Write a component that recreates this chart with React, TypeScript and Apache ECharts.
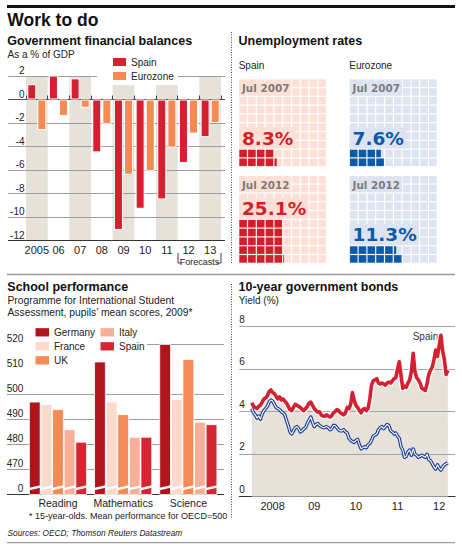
import React, { useEffect, useRef } from 'react';
import * as echarts from 'echarts';

// Government financial balances, % of GDP
const balanceYears = ['2005', '06', '07', '08', '09', '10', '11', '12', '13'];
const spainBalance = [1.3, 2.3, 1.8, -4.5, -11.1, -9.3, -8.5, -5.4, -3.2];
const eurozoneBalance = [-2.6, -1.4, -0.7, -2.1, -6.4, -6.1, -4.1, -2.9, -2.0];
const balanceGridValues = [2, -2, -4, -6, -8, -10];

// Unemployment rates, %
const unempPeriods = ['Jul 2007', 'Jul 2012'];
const unempSpain = [8.3, 25.1];
const unempEurozone = [7.6, 11.3];
const spainBlockRows = [2, 5];
const eurozoneBlockRows = [2, 2];

// PISA 2009 mean scores
const pisaSubjects = ['Reading', 'Mathematics', 'Science'];
const pisaGermany = [497, 513, 520];
const pisaFrance = [496, 497, 498];
const pisaUK = [494, 492, 514];
const pisaItaly = [486, 483, 489];
const pisaSpain = [481, 483, 488];
const pisaGridValues = [470, 480, 490, 500];
const pisaTopGrid = 520;
const pisaBase = 460;

// 10-year government bond yields, %, twice a month from January 2008
const bondYears = [2008, 2009, 2010, 2011, 2012];
const bondYearLabels = ['2008', '09', '10', '11', '12'];
const bondGridValues = [2, 4, 6, 8];
const spainYield = [
  4.42, 4.25, 4.2, 4.15, 4.25, 4.3, 4.45, 4.6, 4.65, 4.75, 4.95, 5.02,
  4.9, 4.85, 4.72, 4.6, 4.7, 4.55, 4.6, 4.5, 4.4, 4.25, 4.1, 4.05,
  4.2, 4.35, 4.3, 4.25, 4.2, 4.1, 4.05, 4.15, 4.25, 4.4, 4.45, 4.3,
  4.15, 4.05, 3.98, 4.0, 3.85, 3.8, 3.78, 3.85, 3.8, 3.75, 3.8, 3.95,
  4.0, 4.1, 4.05, 3.95, 3.9, 3.85, 3.95, 4.2, 4.15, 4.35, 4.9, 4.55,
  4.3, 4.2, 4.05, 3.95, 4.1, 4.15, 4.05, 4.15, 4.6, 5.25, 5.45, 5.5,
  5.55, 5.35, 5.3, 5.35, 5.3, 5.25, 5.35, 5.4, 5.35, 5.45, 5.55, 5.6,
  6.0, 6.35, 5.7, 5.1, 5.2, 5.15, 5.35, 5.5, 5.9, 6.75, 5.9, 5.6,
  5.5, 5.35, 5.1, 5.05, 5.0, 5.3, 5.75, 5.95, 6.1, 6.45, 6.9, 6.6,
  7.1, 7.6, 6.85, 6.45, 5.75, 5.95,
];
const germanyYield = [
  4.15, 3.95, 3.85, 3.7, 3.8, 3.65, 3.9, 4.05, 4.15, 4.25, 4.45, 4.55,
  4.5, 4.35, 4.2, 4.15, 4.1, 4.0, 3.95, 3.85, 3.6, 3.35, 3.05, 2.95,
  3.1, 3.25, 3.3, 3.2, 3.05, 3.1, 3.2, 3.25, 3.45, 3.6, 3.75, 3.5,
  3.3, 3.4, 3.45, 3.35, 3.3, 3.25, 3.25, 3.3, 3.25, 3.15, 3.2, 3.35,
  3.35, 3.25, 3.15, 3.1, 3.1, 3.15, 3.05, 3.0, 2.75, 2.65, 2.6, 2.55,
  2.65, 2.7, 2.45, 2.25, 2.3, 2.35, 2.3, 2.45, 2.5, 2.65, 2.85, 2.9,
  2.95, 3.15, 3.25, 3.3, 3.2, 3.3, 3.4, 3.35, 3.1, 3.05, 2.95, 3.0,
  2.85, 2.75, 2.35, 2.2, 1.85, 1.9, 2.1, 2.2, 1.95, 2.25, 2.0, 1.95,
  1.85, 1.9, 1.95, 1.9, 1.85, 2.0, 1.75, 1.7, 1.55, 1.4, 1.3, 1.5,
  1.35, 1.25, 1.4, 1.5, 1.55, 1.6,
];
const bondStart = 2008;
const bondStepsPerYear = 24;

const FONT = '"Liberation Sans", Arial, Helvetica, sans-serif';
const WIDE = '"DejaVu Sans", Verdana, sans-serif';
const RED = '#d42030';
const ORANGE = '#f58a52';
const BAND = '#e6e2d9';
const INK = '#222';

const hline = (v: number, x0: number, x1: number, color: string, width = 1) => [
  { x: x0, yAxis: v, lineStyle: { color, width, type: 'solid' } },
  { x: x1, yAxis: v },
];

const label = (text: string, x: number, y: number, font: string, fill = INK, align = 'left') => ({
  type: 'text',
  x,
  y,
  silent: true,
  style: { text, font, fill, align, verticalAlign: 'middle', textAlign: align, textVerticalAlign: 'middle' },
});

// Fill a 10x10 waffle from the bottom row upwards, `rows` rows deep
function waffleCells(value: number, rows: number) {
  const base = Math.floor(value / rows);
  const rem = value - base * rows;
  const out: number[][] = [];
  for (let r = 0; r < 10; r++) {
    const rowAmt = r < rows ? base + Math.min(1, Math.max(0, rem - r)) : 0;
    for (let c = 0; c < 10; c++) out.push([c, r, Math.min(1, Math.max(0, rowAmt - c))]);
  }
  return out;
}

// bond panel horizontal scale
const BOND_LEFT = 239.3;
const BOND_WIDTH = 215.7;
const BOND_MIN = 2007.7;
const BOND_MAX = 2012.88;
const BOND_TOP = 326.7;
const BOND_BOTTOM = 496.7;

function buildOption() {
  const waffleLeft = [238.7, 349.3];
  const waffleTop = [78.7, 175.3];
  const panels = [
    { col: 0, row: 0, value: unempSpain[0], rows: spainBlockRows[0], period: unempPeriods[0], pale: '#fde0d5', dark: '#d21f2c' },
    { col: 1, row: 0, value: unempEurozone[0], rows: eurozoneBlockRows[0], period: unempPeriods[0], pale: '#dde3f0', dark: '#0b5aa7' },
    { col: 0, row: 1, value: unempSpain[1], rows: spainBlockRows[1], period: unempPeriods[1], pale: '#fde0d5', dark: '#d21f2c' },
    { col: 1, row: 1, value: unempEurozone[1], rows: eurozoneBlockRows[1], period: unempPeriods[1], pale: '#dde3f0', dark: '#0b5aa7' },
  ];

  const pxPerYear = BOND_WIDTH / (BOND_MAX - BOND_MIN);
  const grids: any[] = [
    { left: 26, top: 76, width: 195, height: 164.5 },
    { left: 25.4, top: 344, width: 195.5, height: 150.5 },
    { left: BOND_LEFT, top: BOND_TOP, width: BOND_WIDTH, height: BOND_BOTTOM - BOND_TOP },
    ...panels.map((p) => ({ left: waffleLeft[p.col], top: waffleTop[p.row], width: 88, height: 88 })),
    // one band per calendar year for the bond panel's year labels
    {
      left: BOND_LEFT + (bondYears[0] - BOND_MIN) * pxPerYear,
      top: BOND_TOP,
      width: bondYears.length * pxPerYear,
      height: BOND_BOTTOM - BOND_TOP,
    },
  ].map((g) => ({ ...g, containLabel: false, outerBoundsMode: 'none' }));

  const yearGridIndex = 3 + panels.length;

  const xAxes: any[] = [
    {
      gridIndex: 0,
      type: 'category',
      data: balanceYears,
      axisLine: { show: false },
      axisTick: { show: true, inside: true, length: 4, interval: 0, lineStyle: { color: '#444' } },
      axisLabel: { interval: 0, hideOverlap: false, fontSize: 11, color: INK, margin: 4, fontFamily: FONT },
      splitLine: { show: false },
      splitArea: { show: true, interval: 0, areaStyle: { color: [BAND, 'rgba(255,255,255,0)'] } },
    },
    {
      gridIndex: 1,
      type: 'category',
      data: pisaSubjects,
      axisLine: { show: false },
      axisTick: { show: false },
      axisLabel: { interval: 0, hideOverlap: false, fontSize: 10.5, color: INK, margin: 3, fontFamily: FONT },
      splitLine: { show: false },
    },
    {
      gridIndex: 2,
      type: 'value',
      min: BOND_MIN,
      max: BOND_MAX,
      axisLine: { show: true, lineStyle: { color: '#333', width: 1.2 } },
      axisTick: { show: true, inside: true, length: 8, customValues: bondYears, lineStyle: { color: '#555' } },
      axisLabel: { show: false },
      splitLine: { show: false },
    },
    ...panels.map((_, i) => ({ gridIndex: 3 + i, type: 'value', min: 0, max: 10, show: false })),
    {
      gridIndex: yearGridIndex,
      type: 'category',
      data: bondYearLabels,
      axisLine: { show: false },
      axisTick: { show: false },
      splitLine: { show: false },
      axisLabel: { interval: 0, hideOverlap: false, fontSize: 11, color: INK, margin: 4, fontFamily: FONT },
    },
  ];

  const yAxes: any[] = [
    {
      gridIndex: 0,
      type: 'value',
      min: -12,
      max: 2,
      interval: 2,
      axisLine: { show: false },
      axisTick: { show: false },
      splitLine: { show: false },
      axisLabel: { fontSize: 10, color: INK, margin: 1.5, verticalAlign: 'bottom', lineHeight: 11, fontFamily: FONT },
    },
    {
      gridIndex: 1,
      type: 'value',
      min: pisaBase,
      max: 520,
      interval: 10,
      axisLine: { show: false },
      axisTick: { show: false },
      splitLine: { show: false },
      axisLabel: {
        formatter: (v: number) => (v === pisaBase ? '0' : String(v)),
        fontSize: 10,
        color: INK,
        margin: 2,
        verticalAlign: 'bottom',
        lineHeight: 11.5,
        fontFamily: FONT,
      },
    },
    {
      gridIndex: 2,
      type: 'value',
      min: 0,
      max: 8,
      interval: 2,
      axisLine: { show: false },
      axisTick: { show: false },
      splitLine: { show: false },
      axisLabel: { inside: true, margin: 0, fontSize: 10, color: INK, verticalAlign: 'bottom', lineHeight: 15, fontFamily: FONT },
    },
    ...panels.map((_, i) => ({ gridIndex: 3 + i, type: 'value', min: 0, max: 10, show: false })),
    { gridIndex: yearGridIndex, type: 'value', min: 0, max: 1, show: false },
  ];

  const markLineBase = {
    silent: true,
    symbol: ['none', 'none'],
    label: { show: false },
    lineStyle: { type: 'solid' },
    animation: false,
  };

  const balanceBar = (name: string, data: number[], color: string, extra: any = {}) => ({
    name,
    type: 'bar',
    xAxisIndex: 0,
    yAxisIndex: 0,
    data,
    barWidth: 9,
    barGap: '12%',
    z: 10,
    itemStyle: { color, borderColor: '#fff', borderWidth: 1 },
    ...extra,
  });

  const pisaBarWidth = 11.6;
  const pisaSeries = [
    { name: 'Germany', data: pisaGermany, color: '#b0141d' },
    { name: 'France', data: pisaFrance, color: '#fcdacb' },
    { name: 'UK', data: pisaUK, color: '#f38b56' },
    { name: 'Italy', data: pisaItaly, color: '#f7af97' },
    { name: 'pisa-Spain', data: pisaSpain, color: '#d62631' },
  ];

  const bondPoints = (arr: number[]) => arr.map((v, i) => [bondStart + i / bondStepsPerYear, v]);
  const spainPts = bondPoints(spainYield);
  const germanyPts = bondPoints(germanyYield);
  const bondLine = (name: string, data: number[][], color: string, width: number, z: number) => ({
    name,
    type: 'line',
    xAxisIndex: 2,
    yAxisIndex: 2,
    data,
    symbol: 'none',
    silent: true,
    z,
    lineStyle: { color, width, join: 'round' },
  });

  const series: any[] = [
    balanceBar('Spain', spainBalance, RED, {
      markLine: {
        ...markLineBase,
        data: [
          ...balanceGridValues.map((v) => hline(v, 8, 225, '#9d9d9d')),
          hline(0, 8, 225, '#555'),
          hline(-12, 8, 225, '#333', 1.2),
        ],
      },
    }),
    balanceBar('Eurozone', eurozoneBalance, ORANGE),

    ...pisaSeries.map((s, k) => ({
      name: s.name,
      type: 'bar',
      xAxisIndex: 1,
      yAxisIndex: 1,
      data: s.data,
      barWidth: pisaBarWidth,
      barGap: '0%',
      z: 10,
      itemStyle: { color: s.color, borderColor: '#fff', borderWidth: 0.8 },
      ...(k === 0
        ? {
            markLine: {
              ...markLineBase,
              data: [
                ...pisaGridValues.map((v) => hline(v, 7, 224, '#9d9d9d')),
                hline(pisaTopGrid, 147, 224, '#9d9d9d'),
                hline(pisaBase, 7, 224, '#333', 1.2),
              ],
            },
          }
        : {}),
    })),
    {
      // axis break cut across the foot of each bar
      name: 'pisa-break',
      type: 'custom',
      xAxisIndex: 1,
      yAxisIndex: 1,
      silent: true,
      z: 11,
      data: pisaSubjects.flatMap((_, i) => pisaSeries.map((__, k) => [i, k])),
      renderItem: (_params: any, api: any) => {
        const c = api.coord([api.value(0), pisaBase]);
        const k = api.value(1);
        const l = c[0] + (k - pisaSeries.length / 2) * pisaBarWidth + 0.4;
        const r = l + pisaBarWidth - 0.8;
        const b = c[1];
        return {
          type: 'polygon',
          shape: { points: [[l, b - 4.3], [r, b - 6.8], [r, b - 9.3], [l, b - 6.8]] },
          style: { fill: '#fff' },
        };
      },
    },

    {
      name: 'bond-area',
      type: 'line',
      xAxisIndex: 2,
      yAxisIndex: 2,
      data: spainPts,
      symbol: 'none',
      silent: true,
      z: 2,
      lineStyle: { width: 0, opacity: 0 },
      areaStyle: { color: BAND, opacity: 1 },
      markLine: {
        ...markLineBase,
        lineStyle: { type: 'solid', color: '#a3a3a3', width: 1 },
        data: bondGridValues.map((v) => ({ yAxis: v })),
      },
    },
    bondLine('bond-Spain-halo', spainPts, '#fff', 6, 6),
    bondLine('bond-Spain', spainPts, RED, 3.6, 7),
    bondLine('bond-Germany', germanyPts, '#1c3d98', 3.4, 8),
    bondLine('bond-Germany-core', germanyPts, '#fff', 1.1, 9),

    ...panels.flatMap((p, i) => [
      {
        name: `waffle-${i}`,
        type: 'custom',
        xAxisIndex: 3 + i,
        yAxisIndex: 3 + i,
        silent: true,
        z: 2,
        data: waffleCells(p.value, p.rows),
        renderItem: (_params: any, api: any) => {
          const c = api.value(0);
          const r = api.value(1);
          const f = api.value(2);
          const p0 = api.coord([c, r]);
          const p1 = api.coord([c + 1, r + 1]);
          const g = 0.6;
          const x = p0[0] + g;
          const y = p1[1] + g;
          const w = p1[0] - p0[0] - 2 * g;
          const h = p0[1] - p1[1] - 2 * g;
          const children: any[] = [{ type: 'rect', shape: { x, y, width: w, height: h }, style: { fill: p.pale } }];
          if (f > 0) children.push({ type: 'rect', shape: { x, y, width: w * f, height: h }, style: { fill: p.dark } });
          return { type: 'group', children };
        },
      },
      {
        name: `waffle-label-${i}`,
        type: 'custom',
        xAxisIndex: 3 + i,
        yAxisIndex: 3 + i,
        silent: true,
        z: 3,
        data: [[0, p.rows]],
        renderItem: (_params: any, api: any) => {
          const tl = api.coord([0, 10]);
          const pc = api.coord([0, api.value(1) + 1.25]);
          return {
            type: 'group',
            children: [
              {
                type: 'text',
                x: tl[0] + 0.3,
                y: tl[1] + 9.5,
                style: {
                  text: p.period,
                  font: `bold 10.4px ${WIDE}`,
                  fill: '#7b7b7b',
                  align: 'left',
                  verticalAlign: 'middle',
                  textAlign: 'left',
                  textVerticalAlign: 'middle',
                  backgroundColor: p.pale,
                  padding: [3, 2, 2, 3],
                },
              },
              {
                type: 'text',
                x: pc[0] + 0.3,
                y: pc[1],
                style: {
                  text: `${p.value}%`,
                  font: `bold 18.5px ${WIDE}`,
                  fill: p.dark,
                  align: 'left',
                  verticalAlign: 'middle',
                  textAlign: 'left',
                  textVerticalAlign: 'middle',
                  backgroundColor: p.pale,
                  padding: [1, 2, 1, 3],
                },
              },
            ],
          };
        },
      },
    ]),
  ];

  const legendCommon = {
    orient: 'vertical',
    icon: 'rect',
    itemWidth: 13,
    itemHeight: 8,
    itemGap: 2,
    selectedMode: false,
    itemStyle: { borderWidth: 0 },
    textStyle: { fontSize: 10, color: INK, lineHeight: 12, fontFamily: FONT },
    formatter: (n: string) => n.replace('pisa-', ''),
  };

  const legends = [
    { ...legendCommon, data: ['Spain', 'Eurozone'], left: 97, top: 54, padding: [2, 4, 3, 16], backgroundColor: '#fff', z: 20 },
    { ...legendCommon, data: ['Germany', 'France', 'UK'], left: 35.5, top: 326.3, padding: 0, itemWidth: 13.5, itemHeight: 8.3 },
    { ...legendCommon, data: ['Italy', 'pisa-Spain'], left: 100.5, top: 326.3, padding: 0, itemWidth: 13.5, itemHeight: 8.3 },
  ];

  const TITLE = `bold 12.5px ${FONT}`;
  const BODY = `10px ${FONT}`;
  const dotted = { stroke: '#444', lineWidth: 1, lineDash: [1, 1.5] };

  const graphic = {
    elements: [
      { type: 'rect', silent: true, shape: { x: 7, y: 5, width: 448, height: 3 }, style: { fill: '#111' } },
      label('Work to do', 7.3, 20, `bold 17.5px ${FONT}`, '#111'),
      label('Government financial balances', 7.3, 41, TITLE, '#111'),
      label('As a % of GDP', 7.5, 54.5, BODY),
      label('Unemployment rates', 238.5, 41, TITLE, '#111'),
      label('Spain', 238.7, 65, BODY),
      label('Eurozone', 349.3, 65, BODY),
      { type: 'line', silent: true, shape: { x1: 231.5, y1: 32, x2: 231.5, y2: 264 }, style: dotted },
      { type: 'line', silent: true, shape: { x1: 231.5, y1: 284, x2: 231.5, y2: 519 }, style: dotted },
      { type: 'line', silent: true, shape: { x1: 7, y1: 274.5, x2: 455, y2: 274.5 }, style: { stroke: '#9a9a9a', lineWidth: 1.5 } },
      { type: 'line', silent: true, shape: { x1: 7, y1: 542.7, x2: 455, y2: 542.7 }, style: { stroke: '#9a9a9a', lineWidth: 1.2 } },
      // forecast bracket under 2012-13
      { type: 'polyline', silent: true, shape: { points: [[178, 253], [178, 263], [181.5, 263]] }, style: { stroke: '#444', lineWidth: 1, fill: null } },
      { type: 'polyline', silent: true, shape: { points: [[216.5, 263], [221, 263], [221, 253]] }, style: { stroke: '#444', lineWidth: 1, fill: null } },
      label('Forecasts', 199.5, 262, `9px ${FONT}`, INK, 'center'),
      label('School performance', 7.3, 287, TITLE, '#111'),
      label('Programme for International Student', 7.5, 300.8, `10.3px ${FONT}`),
      label('Assessment, pupils\u2019 mean scores, 2009*', 7.5, 312.5, `10.3px ${FONT}`),
      label('* 15-year-olds. Mean performance for OECD=500', 29, 515.7, `9px ${FONT}`),
      label('Sources: OECD; Thomson Reuters Datastream', 7.5, 532.7, `italic 8.3px ${FONT}`),
      label('10-year government bonds', 238.5, 287, TITLE, '#111'),
      label('Yield (%)', 238.7, 300.5, BODY),
      label('Spain', 412.7, 336.7, BODY, '#333'),
      label('Germany', 406.7, 433.3, BODY, '#333'),
    ],
  };

  return {
    animation: false,
    backgroundColor: '#fff',
    textStyle: { fontFamily: FONT },
    grid: grids,
    xAxis: xAxes,
    yAxis: yAxes,
    legend: legends,
    series,
    graphic,
  };
}

export default function App() {
  const ref = useRef<HTMLDivElement>(null);
  useEffect(() => {
    if (!ref.current) return;
    const chart = echarts.init(ref.current, undefined, { renderer: 'svg' });
    chart.setOption(buildOption() as any);
    return () => chart.dispose();
  }, []);
  return (
    <div
      ref={ref}
      style={{ position: 'absolute', left: 0, top: 0, width: 462, height: 550, background: '#fff' }}
    />
  );
}
